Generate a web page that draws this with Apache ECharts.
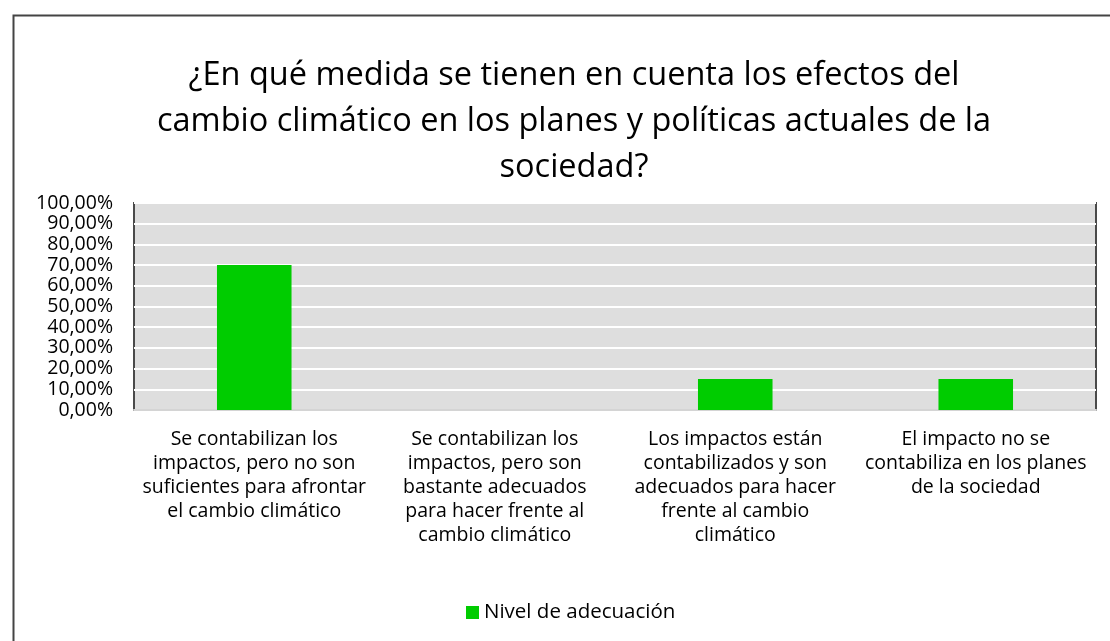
<!DOCTYPE html>
<html>
<head>
<meta charset="utf-8">
<script src="https://cdn.jsdelivr.net/npm/echarts@6/dist/echarts.min.js"></script>
<style>
html,body{margin:0;padding:0;background:#fff;}
#c{width:1110px;height:641px;}
</style>
</head>
<body>
<div id="c"></div>
<script>
const titleText = "¿En qué medida se tienen en cuenta los efectos del\ncambio climático en los planes y políticas actuales de la\nsociedad?";
const categories = [
  "Se contabilizan los\nimpactos, pero no son\nsuficientes para afrontar\nel cambio climático",
  "Se contabilizan los\nimpactos, pero son\nbastante adecuados\npara hacer frente al\ncambio climático",
  "Los impactos están\ncontabilizados y son\nadecuados para hacer\nfrente al cambio\nclimático",
  "El impacto no se\ncontabiliza en los planes\nde la sociedad"
];
const seriesName = "Nivel de adecuación";
const values = [0.70, 0, 0.15, 0.15];

const chart = echarts.init(document.getElementById('c'), null, {renderer:'canvas'});
const FONT = 'Open Sans';
chart.setOption({
  animation:false,
  backgroundColor:'#fff',
  title:{
    text:titleText, left:569, textAlign:'center', top:48,
    textStyle:{fontFamily:FONT, fontSize:32.5, fontWeight:'normal', color:'#000', lineHeight:46}
  },
  graphic:[{
    type:'rect', left:11, top:13, shape:{width:1122, height:700},
    style:{fill:'none', stroke:'#444', lineWidth:2}, silent:true
  }],
  legend:{
    bottom:13, left:461, itemWidth:13, itemHeight:13, itemGap:4,
    icon:'rect',
    textStyle:{fontFamily:FONT, fontSize:20.5, color:'#000'},
    data:[seriesName]
  },
  grid:{
    left:134, right:14, top:203, bottom:231, show:true,
    backgroundColor:'#dedede', borderColor:'#4a4a4a', borderWidth:2
  },
  xAxis:{
    type:'category', data:categories,
    axisLine:{lineStyle:{color:'#d4d4d4', width:2}},
    axisTick:{show:false},
    axisLabel:{fontFamily:FONT, fontSize:19.5, color:'#000', lineHeight:24, margin:17, interval:0, align:'center'}
  },
  yAxis:{
    type:'value', min:0, max:1, interval:0.1,
    axisLine:{show:false}, axisTick:{show:false},
    splitLine:{lineStyle:{color:'#ffffff', width:2}},
    axisLabel:{fontFamily:FONT, fontSize:19.5, color:'#000', margin:21,
      formatter:function(v){return (v*100).toFixed(2).replace('.',',')+'%';}}
  },
  series:[{
    name:seriesName, type:'bar', data:values, barWidth:'31%',
    itemStyle:{color:'#00cc00'}
  }]
});
</script>
</body>
</html>
